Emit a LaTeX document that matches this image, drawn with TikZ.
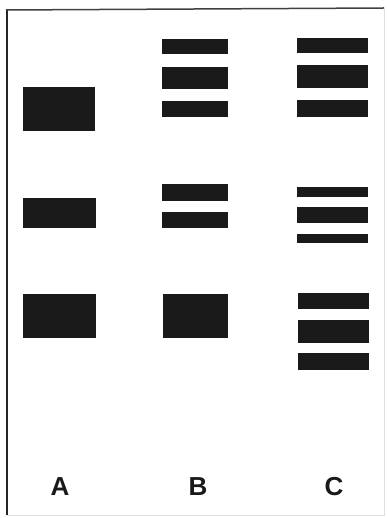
\documentclass[tikz,border=0pt]{standalone}
\usepackage{fontspec}
\setmainfont{Liberation Sans}
\definecolor{band}{HTML}{1A1A1A}
\begin{document}
\begin{tikzpicture}[x=1pt,y=-1pt,
  bandbox/.style={fill=band,draw=none},
  lanelabel/.style={font=\fontsize{26}{30}\selectfont\bfseries,text=black!90,inner sep=0pt,anchor=center}]
\useasboundingbox (0,0) rectangle (386,518);
% frame
\draw[black!85,line width=2pt] (7,515) -- (7,10);
\draw[black!75,line width=1.5pt] (6,10) -- (384,8);
\draw[black!12,line width=1pt] (384,8) -- (384,515) -- (7,515);
% lane A
\fill[bandbox] (23,87) rectangle (95,131);
\fill[bandbox] (23,198) rectangle (96,228);
\fill[bandbox] (23,294) rectangle (96,338);
% lane B
\fill[bandbox] (162,39) rectangle (228,54);
\fill[bandbox] (162,67) rectangle (228,89);
\fill[bandbox] (162,101) rectangle (228,117);
\fill[bandbox] (162,184) rectangle (228,201);
\fill[bandbox] (162,212) rectangle (228,228);
\fill[bandbox] (163,294) rectangle (228,338);
% lane C
\fill[bandbox] (297,38) rectangle (368,53);
\fill[bandbox] (297,65) rectangle (368,88);
\fill[bandbox] (297,100) rectangle (368,117);
\fill[bandbox] (297,187) rectangle (368,197);
\fill[bandbox] (297,207) rectangle (368,223);
\fill[bandbox] (297,234) rectangle (368,243);
\fill[bandbox] (298,293) rectangle (369,309);
\fill[bandbox] (298,320) rectangle (369,343);
\fill[bandbox] (298,353) rectangle (369,370);
% labels
\node[lanelabel] (la) at (60,487) {A};
\node[lanelabel] (lb) at (198,487) {B};
\node[lanelabel] (lc) at (334,487) {C};
\end{tikzpicture}
\end{document}
